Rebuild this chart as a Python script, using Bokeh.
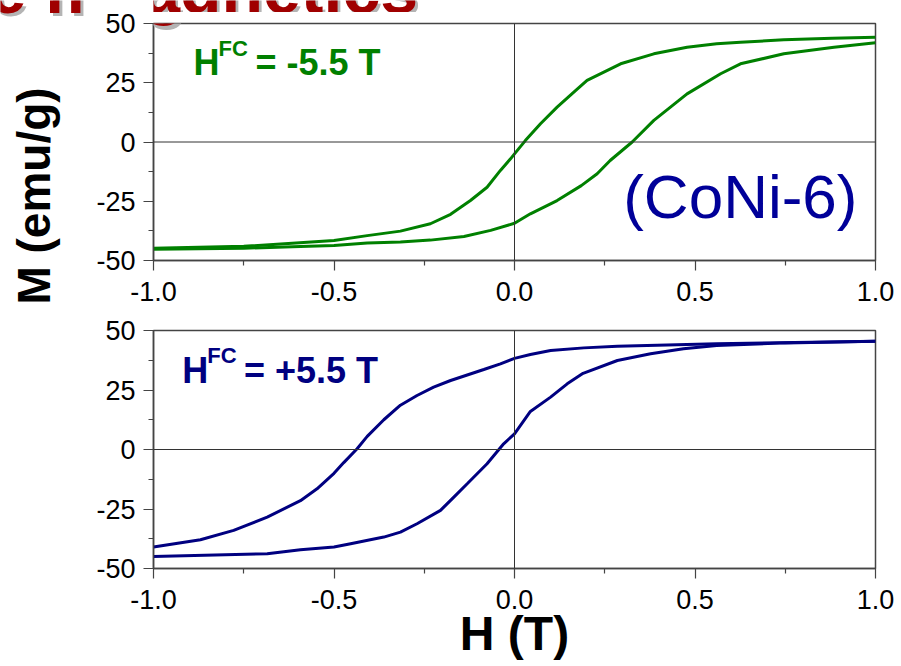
import math
from bokeh.plotting import figure
from bokeh.layouts import column, row
from bokeh.models import Range1d, FixedTicker, PrintfTickFormatter, Span, Label
from bokeh.embed import file_html
from bokeh.resources import INLINE

# ---------------- data ----------------
x_ticks = [-1.0, -0.5, 0.0, 0.5, 1.0]
x_minor = [-0.75, -0.25, 0.25, 0.75]
y_ticks = [-50, -25, 0, 25, 50]
y_minor = [-37.5, -12.5, 12.5, 37.5]

# Top panel, H_FC = -5.5 T (green)
top_up_H = [-1.0, -0.75, -0.5, -0.408, -0.316, -0.233, -0.177, -0.122, -0.076, -0.039,
            -0.011, 0.0, 0.03, 0.072, 0.118, 0.169, 0.201, 0.294, 0.386, 0.478,
            0.56, 0.626, 0.746, 0.88, 1.0]
top_up_M = [-44.8, -44.0, -41.6, -39.5, -37.6, -34.5, -30.5, -24.7, -19.1, -12.0,
            -7.1, -5.0, 0.6, 7.7, 14.7, 21.7, 26.0, 33.0, 37.2, 40.0,
            41.5, 42.1, 43.1, 43.8, 44.2]
top_lo_H = [-1.0, -0.75, -0.593, -0.5, -0.408, -0.316, -0.233, -0.14, -0.066, 0.0,
            0.044, 0.118, 0.185, 0.229, 0.265, 0.326, 0.386, 0.478, 0.571, 0.626,
            0.746, 0.885, 1.0]
top_lo_M = [-45.3, -44.8, -44.1, -43.7, -42.6, -42.2, -41.4, -39.9, -37.3, -34.3,
            -30.3, -24.7, -18.4, -13.4, -7.8, 0.0, 9.1, 20.3, 28.8, 33.0,
            37.2, 40.0, 41.9]

# Bottom panel, H_FC = +5.5 T (navy)
bot_up_H = [-1.0, -0.87, -0.778, -0.685, -0.593, -0.547, -0.5, -0.473, -0.436, -0.408,
            -0.362, -0.316, -0.27, -0.224, -0.177, -0.131, -0.085, -0.039, 0.0, 0.044,
            0.1, 0.192, 0.285, 0.56, 1.0]
bot_up_M = [-41.0, -37.9, -34.0, -28.4, -21.5, -16.5, -10.0, -5.5, 0.3, 5.5,
            12.5, 18.6, 22.7, 26.2, 29.0, 31.3, 33.6, 36.0, 38.3, 39.9,
            41.6, 42.7, 43.4, 44.4, 45.5]
bot_lo_H = [-1.0, -0.685, -0.593, -0.5, -0.454, -0.362, -0.316, -0.27, -0.205, -0.168,
            -0.131, -0.076, -0.03, 0.0, 0.044, 0.1, 0.146, 0.19, 0.285, 0.377,
            0.468, 0.56, 0.75, 1.0]
bot_lo_M = [-45.0, -43.8, -42.1, -41.0, -39.6, -36.8, -34.7, -31.2, -25.6, -20.0,
            -14.4, -6.0, 2.4, 6.6, 16.0, 22.0, 27.6, 32.0, 37.4, 40.2,
            42.3, 43.7, 44.8, 45.5]

FONT = "Liberation Sans"
GREEN = "#008000"
NAVY = "#000080"
AXC = "#444444"
RED = "#A00000"
SHADOW = "#B4B4B4"
LEFT_W = 92
HEAD_H = 12


def make_fig(height, top, bottom):
    p = figure(width=901 - LEFT_W, height=height, x_range=Range1d(-1, 1), y_range=Range1d(-50, 50),
               output_backend="svg", toolbar_location=None,
               min_border_left=153 - LEFT_W, min_border_right=26,
               min_border_top=top, min_border_bottom=bottom)
    p.grid.visible = False
    p.outline_line_color = AXC
    p.outline_line_width = 1.5
    p.outline_line_alpha = 1.0
    p.xaxis.ticker = FixedTicker(ticks=x_ticks, minor_ticks=x_minor)
    p.yaxis.ticker = FixedTicker(ticks=y_ticks, minor_ticks=y_minor)
    p.xaxis.formatter = PrintfTickFormatter(format="%.1f")
    p.yaxis.formatter = PrintfTickFormatter(format="%d")
    for ax in (p.xaxis[0], p.yaxis[0]):
        ax.axis_line_color = AXC
        ax.axis_line_width = 1.5
        ax.major_tick_line_color = AXC
        ax.minor_tick_line_color = AXC
        ax.major_tick_line_width = 1.2
        ax.minor_tick_line_width = 1.2
        ax.major_tick_in = 0
        ax.major_tick_out = 10
        ax.minor_tick_in = 0
        ax.minor_tick_out = 5
        ax.major_label_text_font = FONT
        ax.major_label_text_font_size = "27px"
        ax.major_label_text_color = "black"
    p.xaxis.major_label_standoff = 11
    p.yaxis.major_label_standoff = 8
    p.add_layout(Span(location=0, dimension="width", line_color="#333333", line_width=1))
    p.add_layout(Span(location=0, dimension="height", line_color="#333333", line_width=1))
    return p


def blank(width, height, xr, yr):
    b = figure(width=width, height=height, x_range=Range1d(*xr), y_range=Range1d(*yr),
               output_backend="svg", toolbar_location=None,
               x_axis_location=None, y_axis_location=None,
               min_border_left=0, min_border_right=0, min_border_top=0, min_border_bottom=0)
    b.grid.visible = False
    b.outline_line_color = None
    return b


def lab(p, x, y, text, size, color, bold=True, **kw):
    p.add_layout(Label(x=x, y=y, text=text, text_font=FONT, text_font_size=size,
                       text_color=color, text_font_style="bold" if bold else "normal",
                       text_baseline="alphabetic", **kw))


TITLE = "e magnetics"

# ---------------- left strip (axis title + start of the page title) ----------------
pl = blank(LEFT_W, 666, (0, LEFT_W), (0, 666))
lab(pl, -9, 675, TITLE, "68px", SHADOW)
lab(pl, -12, 678, TITLE, "68px", RED)
lab(pl, 33, 470.5, "M (emu/g)", "46px", "black", angle=math.pi / 2, text_align="center")

# ---------------- header strip (rest of the page title, cut at the top) ----------------
HX = -12 - LEFT_W - 40
ph = blank(901 - LEFT_W, HEAD_H, (0, 901 - LEFT_W), (0, HEAD_H))
lab(ph, HX + 3, HEAD_H + 9, TITLE, "68px", SHADOW)
lab(ph, HX, HEAD_H + 12, TITLE, "68px", RED)

# ---------------- top panel ----------------
p1 = make_fig(310 - HEAD_H, 23 - HEAD_H, 50)
p1.line(top_up_H, top_up_M, line_color=GREEN, line_width=3)
p1.line(top_lo_H, top_lo_M, line_color=GREEN, line_width=3)

lab(p1, -1.449, 63.5, TITLE, "68px", SHADOW)
lab(p1, -1.457, 64.77, TITLE, "68px", RED)

lab(p1, -0.889, 33.54, "H", "36px", GREEN)
lab(p1, -0.8199, 39.45, "FC", "22px", GREEN)
lab(p1, -0.7175, 33.54, "= -5.5 T", "36px", GREEN)
lab(p1, 0.950, -23.0, "(CoNi-6)", "62px", "#000099", bold=False, text_align="right")

# ---------------- bottom panel ----------------
p2 = make_fig(356, 20, 98)
p2.line(bot_up_H, bot_up_M, line_color=NAVY, line_width=3)
p2.line(bot_lo_H, bot_lo_M, line_color=NAVY, line_width=3)

lab(p2, -0.9205, 33.32, "H", "36px", NAVY)
lab(p2, -0.8512, 39.62, "FC", "22px", NAVY)
lab(p2, -0.7493, 33.32, "= +5.5 T", "36px", NAVY)

p2.xaxis.axis_label = "H (T)"
p2.xaxis.axis_label_text_font = FONT
p2.xaxis.axis_label_text_font_size = "48px"
p2.xaxis.axis_label_text_font_style = "bold"
p2.xaxis.axis_label_text_color = "black"
p2.xaxis.axis_label_standoff = -5

layout = row(pl, column(ph, p1, p2, spacing=0), spacing=0)
open("out.html", "w").write(file_html(layout, INLINE))
